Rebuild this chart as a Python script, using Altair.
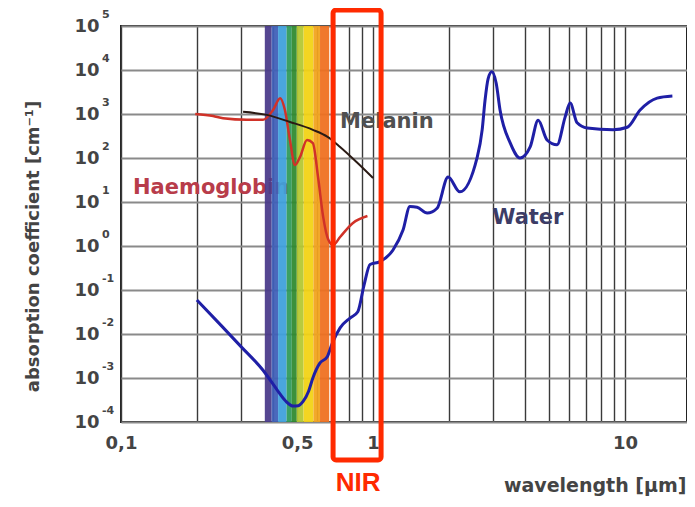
import altair as alt
import pandas as pd

# ---------------- data ----------------
water_wl = [0.2, 0.25, 0.3, 0.366, 0.416, 0.45, 0.482, 0.505, 0.527, 0.555, 0.577, 0.616,
            0.657, 0.69, 0.74, 0.81, 0.87, 0.92, 0.973, 1.066, 1.2, 1.315, 1.40, 1.495,
            1.64, 1.795, 1.985, 2.21, 2.59, 2.71, 2.78, 2.86, 2.96, 3.08, 3.19, 3.5,
            3.83, 4.2, 4.52, 4.9, 5.37, 5.78, 6.05, 6.45, 7.07, 8.96, 10.2, 11.47, 13.4, 15.4]
water_abs = [0.059, 0.0155, 0.0051, 0.0015, 0.00054, 0.0003, 0.00023, 0.000235, 0.00029,
             0.0005, 0.001, 0.0022, 0.003, 0.0063, 0.0138, 0.023, 0.032, 0.126, 0.38, 0.44,
             0.81, 2.3, 7.9, 7.6, 5.6, 7.2, 37, 17, 105, 440, 2000, 6300, 9100, 5000, 1230,
             220, 100, 178, 720, 257, 200, 850, 1780, 630, 480, 440, 500, 1230, 2300, 2570]

melanin_wl = [0.305, 0.379, 0.468, 0.577, 0.66, 0.74, 0.86, 1.0]
melanin_abs = [1120, 955, 660, 437, 302, 178, 81, 35]

hb_wl = [0.197, 0.232, 0.254, 0.316, 0.366, 0.401, 0.428, 0.447, 0.468, 0.49, 0.513,
         0.547, 0.577, 0.605, 0.634, 0.664, 0.694, 0.74, 0.83, 0.95]
hb_abs = [1000, 900, 800, 740, 740, 1230, 2290, 1230, 257, 69, 105, 257, 219, 37, 4.6,
          1.4, 1.05, 1.6, 3.3, 4.8]

band_start = [0.372, 0.396, 0.42, 0.454, 0.476, 0.498, 0.53, 0.58, 0.616]
band_end = [0.396, 0.42, 0.454, 0.476, 0.498, 0.53, 0.58, 0.616, 0.67]
band_color = ["#4a3a8a", "#4060b8", "#3fa0dc", "#2f9a5a", "#2f8a30", "#b4c832",
              "#f2d214", "#f2a41e", "#ef7020"]

y_decades = [1e5, 1e4, 1e3, 1e2, 1e1, 1, 1e-1, 1e-2, 1e-3, 1e-4]
y_exponents = ["5", "4", "3", "2", "1", "0", "-1", "-2", "-3", "-4"]
x_grid = [0.1, 0.2, 0.3, 0.4, 0.5, 0.6, 0.7, 0.8, 0.9, 1, 2, 3, 4, 5, 6, 7, 8, 9, 10]
x_labels = ["0.1", "0.5", "1", "10"]

nir_x = [0.694, 1.076]
nir_y = [2.3e5, 1.37e-5]

label_text = ["Melanin", "Haemoglobin", "Water"]
label_x = [0.74, 0.1116, 2.97]
label_y = [660, 21, 4.3]
label_color = ["#505050", "#b83c4a", "#3c3c66"]

nir_label_x = [0.872]
nir_label_y = [4.2e-6]

# ---------------- chart ----------------
FONT = "DejaVu Sans"
xscale = alt.Scale(type="log", domain=[0.1, 17.6], nice=False)
yscale = alt.Scale(type="log", domain=[1e-4, 1e5], nice=False)

label_list = "[" + ",".join("'%s'" % s for s in x_labels) + "]"
xaxis = alt.Axis(values=x_grid, format="~g",
                 labelExpr="indexof(%s, datum.label) >= 0 ? replace(datum.label, '.', ',') : ''" % label_list,
                 grid=True, gridColor="#3a3a3a", gridWidth=1.4, ticks=False, domain=False,
                 labelFlush=False, labelOverlap=False, labelFont=FONT, labelFontWeight="bold",
                 labelFontSize=18, labelColor="#444444", labelPadding=12,
                 title="wavelength [µm]", titleFont=FONT, titleFontWeight="bold",
                 titleFontSize=19, titleColor="#444444", titleX=565, titleY=63,
                 titleAlign="right", titleBaseline="middle")
yaxis = alt.Axis(values=y_decades, labelExpr="'10'", grid=True, gridColor="#8a8a8a",
                 gridWidth=2, ticks=False, domain=False, labelFont=FONT,
                 labelFontWeight="bold", labelFontSize=18, labelColor="#444444",
                 labelPadding=22, labelOverlap=False,
                 title="absorption coefficient [cm⁻¹]", titleFont=FONT,
                 titleFontWeight="bold", titleFontSize=18, titleColor="#444444",
                 titleX=-88, titleY=220, titleAlign="center", titleBaseline="middle")


def X(f="x"):
    return alt.X(f, type="quantitative", scale=xscale, axis=xaxis)


def Y(f="y"):
    return alt.Y(f, type="quantitative", scale=yscale, axis=yaxis)


bands = pd.DataFrame({"x": band_start, "x2": band_end, "c": band_color,
                      "y": [1e-4] * len(band_start), "y2": [1e5] * len(band_start)})
water = pd.DataFrame({"x": water_wl, "y": water_abs})
melanin = pd.DataFrame({"x": melanin_wl, "y": melanin_abs})
hb = pd.DataFrame({"x": hb_wl, "y": hb_abs})
labels = pd.DataFrame({"x": label_x, "y": label_y, "t": label_text, "c": label_color})
expo = pd.DataFrame({"x": [0.1] * len(y_decades), "y": y_decades, "t": y_exponents})
nirbox = pd.DataFrame({"x": [nir_x[0]], "x2": [nir_x[1]], "y": [nir_y[0]], "y2": [nir_y[1]]})
nirlab = pd.DataFrame({"x": nir_label_x, "y": nir_label_y, "t": ["NIR"]})

hb_label = alt.Chart(labels.iloc[[1]]).mark_text(
    font=FONT, fontWeight="bold", fontSize=21, align="left", baseline="middle"
).encode(x=X(), y=Y(), text="t:N", color=alt.Color("c:N", scale=None))

band_layer = alt.Chart(bands).mark_rect(opacity=0.94).encode(
    x=X(), x2="x2", y=Y(), y2="y2", color=alt.Color("c:N", scale=None))

water_line = alt.Chart(water).mark_line(color="#1f1fa6", strokeWidth=3,
                                        interpolate="monotone").encode(x=X(), y=Y())
mel_line = alt.Chart(melanin).mark_line(color="#2a1a14", strokeWidth=2,
                                        interpolate="monotone").encode(x=X(), y=Y())
hb_line = alt.Chart(hb).mark_line(color="#d03228", strokeWidth=2.5,
                                  interpolate="monotone").encode(x=X(), y=Y())

other_labels = alt.Chart(labels.iloc[[0, 2]]).mark_text(
    font=FONT, fontWeight="bold", fontSize=21, align="left", baseline="middle"
).encode(x=X(), y=Y(), text="t:N", color=alt.Color("c:N", scale=None))

exp_layer = alt.Chart(expo).mark_text(
    font=FONT, fontWeight="bold", fontSize=11, align="left", baseline="middle",
    dx=-19, dy=-11, color="#444444"
).encode(x=X(), y=Y(), text="t:N")

box_layer = alt.Chart(nirbox).mark_rect(
    fillOpacity=0, stroke="#ff2a00", strokeWidth=5, cornerRadius=3
).encode(x=X(), x2="x2", y=Y(), y2="y2")

nir_text = alt.Chart(nirlab).mark_text(
    font="Liberation Sans", fontWeight="bold", fontSize=26, color="#ff2a00",
    align="center", baseline="middle"
).encode(x=X(), y=Y(), text="t:N")

chart = alt.layer(
    hb_label, band_layer, hb_line, mel_line, water_line, other_labels,
    exp_layer, box_layer, nir_text
).properties(
    width=566, height=396,
    autosize=alt.AutoSizeParams(type="none"),
    padding={"left": 113, "top": 18, "right": 0, "bottom": 77},
).configure_view(stroke="#222222", strokeWidth=2)

chart.save("out.html", embed_options={"renderer": "svg", "actions": False})
